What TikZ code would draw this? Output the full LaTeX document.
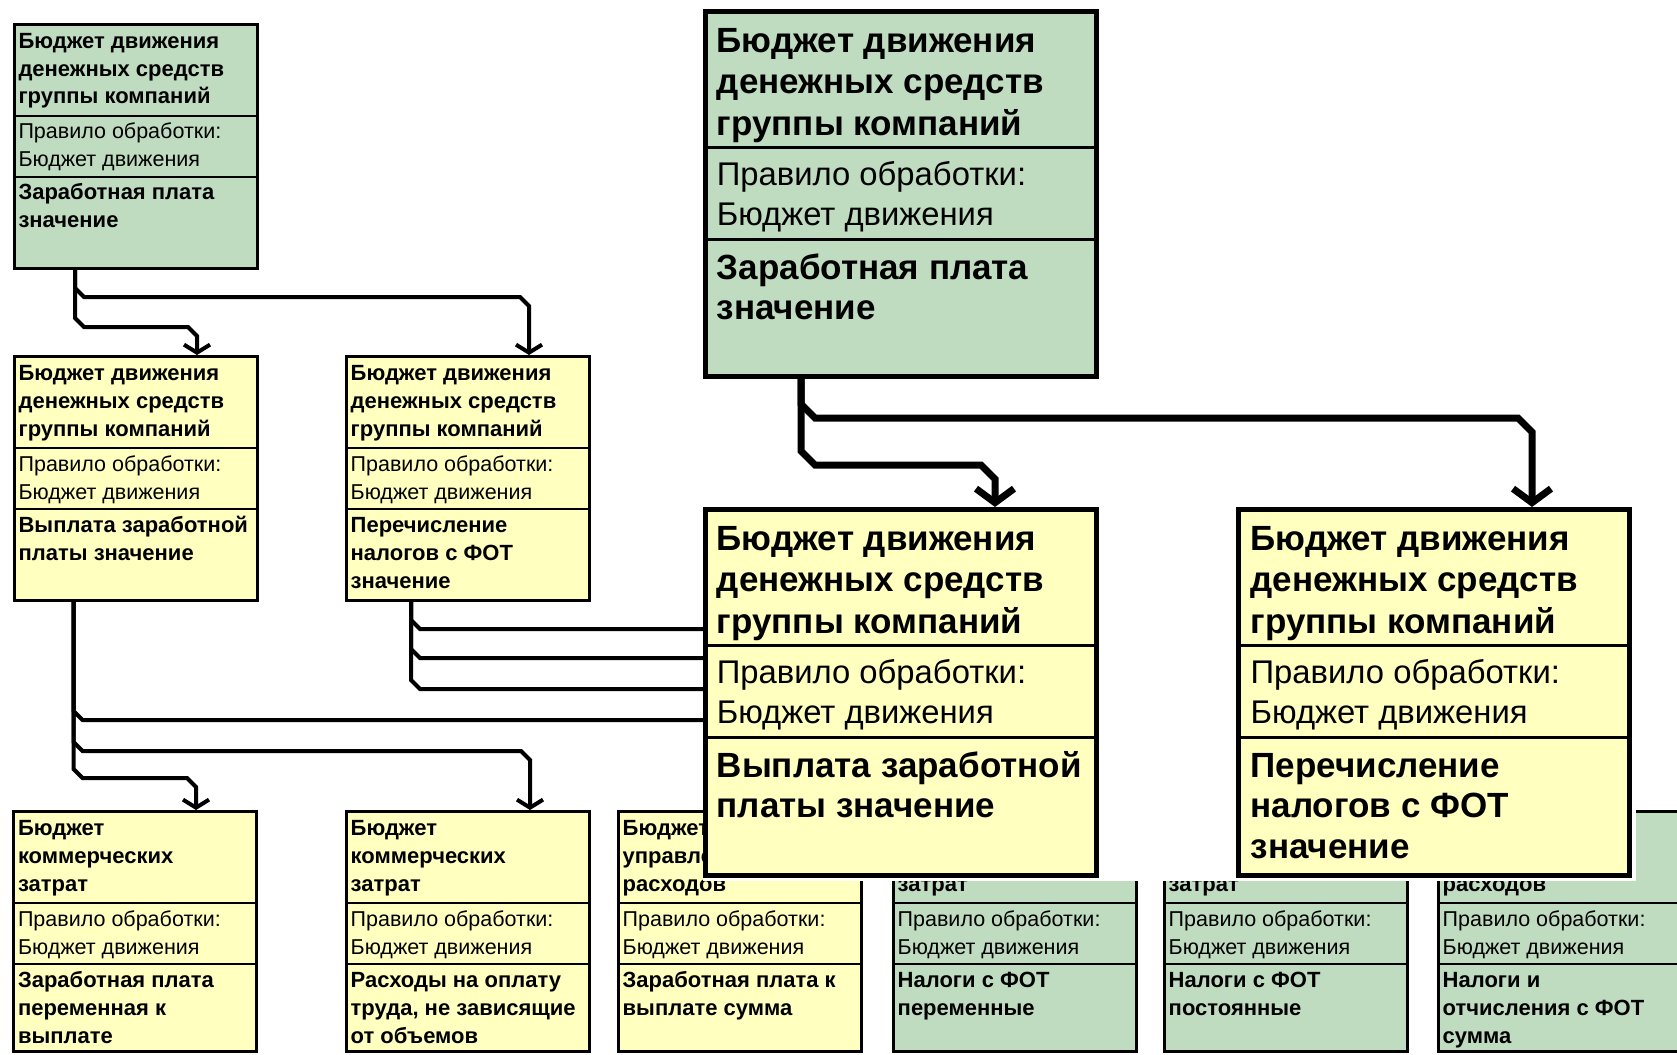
\documentclass[tikz,border=0pt]{standalone}
\usepackage{fontspec}
\setmainfont{Liberation Sans}
\usetikzlibrary{arrows.meta,calc}
\pgfdeclarelayer{front}
\pgfsetlayers{main,front}
\definecolor{boxgreen}{RGB}{192,220,192}
\definecolor{boxyellow}{RGB}{255,255,192}
\tikzset{
  sboxst/.style={draw=black, line width=3pt, rectangle, inner sep=0pt, outer sep=0pt, anchor=north west, minimum width=243pt},
  bboxst/.style={draw=black, line width=5pt, rectangle, inner sep=0pt, outer sep=0pt, anchor=north west, minimum width=391pt},
  sdiv/.style={line width=2pt, draw=black},
  bdiv/.style={line width=3pt, draw=black},
  sline/.style={line width=4pt, draw=black},
  sconn/.style={sline, -{Straight Barb[length=8pt,width=26pt]}},
  bline/.style={line width=7pt, draw=black},
  bconn/.style={bline, -{Straight Barb[length=14pt,width=38pt]}},
  shead/.style={font=\fontsize{22}{26}\selectfont\bfseries, anchor=base west, inner sep=0pt},
  sreg/.style={font=\fontsize{21.5}{26}\selectfont, anchor=base west, inner sep=0pt},
  bhead/.style={font=\fontsize{35}{40}\selectfont\bfseries, anchor=base west, inner sep=0pt},
  breg/.style={font=\fontsize{32.8}{40}\selectfont, anchor=base west, inner sep=0pt},
}
% #1 name prefix, #2 style, #3 x, #4 first baseline, #5 step, #6 lines
\newcommand\tlines[6]{%
  \foreach \s [count=\i from 0] in {#6}{%
    \node[#2] (#1-\i) at ({#3},{#4+\i*#5}) {\s};
  }%
}
% [#1 height] #2 name, #3 X, #4 Y, #5 fill, #6 first header index, #7 header lines, #8 value lines
\newcommand\smallrec[8][247]{%
  \node[sboxst, fill=#5, minimum height=#1pt-3pt] (#2) at ({#3+1.5},{#4+1.5}) {};
  \draw[sdiv] ($(#2.north west)+(0,91.5)$) -- ($(#2.north east)+(0,91.5)$);
  \draw[sdiv] ($(#2.north west)+(0,152.5)$) -- ($(#2.north east)+(0,152.5)$);
  \tlines{#2-h}{shead}{#3+5.5}{#4+25.7+#6*27.8}{27.8}{#7}%
  \tlines{#2-r}{sreg}{#3+5.5}{#4+116}{28}{Правило обработки:,Бюджет движения}%
  \tlines{#2-v}{shead}{#3+5.5}{#4+177}{28}{#8}%
}
% #1 name, #2 X, #3 Y, #4 height, #5 fill, #6 value lines
\newcommand\bigrec[6]{%
  \node[bboxst, fill=#5, minimum height=#4pt-5pt] (#1) at ({#2+2.5},{#3+2.5}) {};
  \draw[bdiv] ($(#1.north west)+(0,136)$) -- ($(#1.north east)+(0,136)$);
  \draw[bdiv] ($(#1.north west)+(0,227.5)$) -- ($(#1.north east)+(0,227.5)$);
  \tlines{#1-h}{bhead}{#2+14}{#3+43}{41.5}{Бюджет движения,денежных средств,группы компаний}%
  \tlines{#1-r}{breg}{#2+14}{#3+176}{40}{Правило обработки:,Бюджет движения}%
  \tlines{#1-v}{bhead}{#2+14}{#3+270}{40.5}{#6}%
}
\begin{document}
\begin{tikzpicture}[x=1pt, y=-1pt]
\useasboundingbox (0,0) rectangle (1677,1054);
\fill[white] (0,0) rectangle (1677,1054);

% ---------- magnified overlay (front layer) ----------
\begin{pgfonlayer}{front}
  \fill[white] (702.6,0) rectangle (1636,881);
  \bigrec{BG}{702.6}{9.3}{369.7}{boxgreen}{Заработная плата,значение}
  \bigrec{BY1}{702.6}{507}{371}{boxyellow}{Выплата заработной,платы значение}
  \bigrec{BY2}{1236.4}{507}{371}{boxyellow}{Перечисление,налогов с ФОТ,значение}
  \draw[bconn] ($(BG.south west)+(96,0)$) -- (801,404) -- (815,418) -- (1518,418) -- (1532,432) -- ($(BY2.north west)+(293.1,-2.5)$);
  \draw[bconn] ($(BG.south west)+(96,0)$) -- (801,451) -- (815,465) -- (981,465) -- (995,479) -- ($(BY1.north west)+(289.9,-2.5)$);
\end{pgfonlayer}

% ---------- small boxes ----------
\smallrec{G1}{12.8}{22.7}{boxgreen}{0}{Бюджет движения,денежных средств,группы компаний}{Заработная плата,значение}
\smallrec{Y1}{12.9}{355}{boxyellow}{0}{Бюджет движения,денежных средств,группы компаний}{Выплата заработной,платы значение}
\smallrec{Y2}{345}{355}{boxyellow}{0}{Бюджет движения,денежных средств,группы компаний}{Перечисление,налогов с ФОТ,значение}
\smallrec[243]{Y3}{12.3}{810}{boxyellow}{0}{Бюджет,коммерческих,затрат}{Заработная плата,переменная к,выплате}
\smallrec[243]{Y4}{345}{810}{boxyellow}{0}{Бюджет,коммерческих,затрат}{Расходы на оплату,{труда, не зависящие},от объемов}
\smallrec[243]{Y5}{617}{810}{boxyellow}{0}{Бюджет,управленческих,расходов}{Заработная плата к,выплате сумма}
\smallrec[243]{G2}{892}{810}{boxgreen}{2}{затрат}{Налоги с ФОТ,переменные}
\smallrec[243]{G3}{1163}{810}{boxgreen}{2}{затрат}{Налоги с ФОТ,постоянные}
\smallrec[243]{G4}{1437}{810}{boxgreen}{2}{расходов}{Налоги и,отчисления с ФОТ,сумма}

% ---------- small connectors ----------
\draw[sconn] ($(G1.south west)+(60.7,0)$) -- (75,288) -- (84,297) -- (520,297) -- (529,306) -- ($(Y2.north west)+(182.5,-1.5)$);
\draw[sconn] ($(G1.south west)+(60.7,0)$) -- (75,318) -- (84,327) -- (188,327) -- (197,336) -- ($(Y1.north west)+(182.6,-1.5)$);

\draw[sline] ($(Y2.south west)+(64.5,0)$) -- (411,620) -- (420,629) -- ($(BY1.north west)+(0,119.5)$);
\draw[sline] ($(Y2.south west)+(64.5,0)$) -- (411,649) -- (420,658) -- ($(BY1.north west)+(0,148.5)$);
\draw[sline] ($(Y2.south west)+(64.5,0)$) -- (411,680) -- (420,689) -- ($(BY1.north west)+(0,179.5)$);

\draw[sline] ($(Y1.south west)+(59.1,0)$) -- (73.5,711) -- (82.5,720) -- ($(BY1.north west)+(0,210.5)$);
\draw[sconn] ($(Y1.south west)+(59.1,0)$) -- (73.5,742) -- (82.5,751) -- (521,751) -- (530,760) -- ($(Y4.north west)+(183.5,-1.5)$);
\draw[sconn] ($(Y1.south west)+(59.1,0)$) -- (73.5,769) -- (82.5,778) -- (187,778) -- (196,787) -- ($(Y3.north west)+(182.2,-1.5)$);
\end{tikzpicture}
\end{document}
